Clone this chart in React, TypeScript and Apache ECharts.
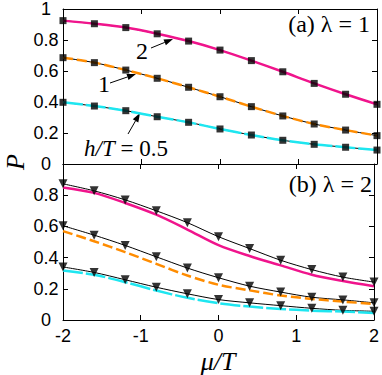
import React, { useEffect, useRef } from "react";
import * as echarts from "echarts";

const muValues = [-2, -1.6, -1.2, -0.8, -0.4, 0, 0.4, 0.8, 1.2, 1.6, 2];

// Panel (a) lambda = 1 : squares and curves for h/T = 2, 1, 0.5
const a_h2 = [0.925, 0.905, 0.88, 0.84, 0.793, 0.735, 0.667, 0.595, 0.52, 0.45, 0.385];
const a_h1 = [0.686, 0.654, 0.606, 0.553, 0.495, 0.434, 0.37, 0.31, 0.258, 0.219, 0.183];
const a_h05 = [0.398, 0.374, 0.344, 0.305, 0.269, 0.226, 0.187, 0.153, 0.127, 0.108, 0.09];

// Panel (b) lambda = 2 : triangles (black) and colored curves
const b_tri_h2 = [0.873, 0.828, 0.77, 0.7, 0.624, 0.534, 0.458, 0.383, 0.323, 0.275, 0.243];
const b_tri_h1 = [0.604, 0.544, 0.478, 0.405, 0.333, 0.271, 0.217, 0.179, 0.146, 0.129, 0.11];
const b_tri_h05 = [0.34, 0.305, 0.258, 0.21, 0.168, 0.131, 0.11, 0.092, 0.075, 0.062, 0.056];
const b_h2 = [0.85, 0.815, 0.75, 0.675, 0.58, 0.48, 0.41, 0.35, 0.29, 0.25, 0.217];
const b_h1 = [0.57, 0.505, 0.435, 0.36, 0.285, 0.226, 0.19, 0.157, 0.135, 0.118, 0.103];
const b_h05 = [0.318, 0.29, 0.243, 0.189, 0.142, 0.108, 0.086, 0.071, 0.06, 0.054, 0.045];

const xTicks = [-2, -1, 0, 1, 2];
const yTicks = [0, 0.2, 0.4, 0.6, 0.8, 1];

const MAGENTA = "#f0148c";
const ORANGE = "#ff8c00";
const CYAN = "#1ee6f0";

const pairs = (ys: number[]) => muValues.map((x, i) => [x, ys[i]]);

function arrow(x1: number, y1: number, x2: number, y2: number) {
  const dx = x2 - x1;
  const dy = y2 - y1;
  const L = Math.sqrt(dx * dx + dy * dy);
  const ux = dx / L;
  const uy = dy / L;
  const hl = 9;
  const hw = 3.2;
  const bx = x2 - ux * hl;
  const by = y2 - uy * hl;
  return {
    type: "group",
    children: [
      {
        type: "line",
        shape: { x1, y1, x2: bx, y2: by },
        style: { stroke: "#000", lineWidth: 1 },
      },
      {
        type: "polygon",
        shape: {
          points: [
            [x2, y2],
            [bx - uy * hw, by + ux * hw],
            [bx + uy * hw, by - ux * hw],
          ],
        },
        style: { fill: "#000" },
      },
    ],
  };
}

export default function App() {
  const ref = useRef<HTMLDivElement>(null);
  useEffect(() => {
    document.body.style.margin = "0";
    if (!ref.current) return;
    const chart = echarts.init(ref.current, undefined, { renderer: "svg" });
    const labelFont = {
      fontFamily: "Liberation Sans, Arial, sans-serif",
      fontSize: 18,
      color: "#000",
    };
    const xBase = (gridIndex: number, position: string, showLabel: boolean) => ({
      type: "value",
      gridIndex,
      position,
      min: -2,
      max: 2,
      interval: 1,
      axisLine: { show: true, onZero: false, lineStyle: { color: "#000", width: 1 } },
      axisTick: { show: true, inside: true, length: 5, lineStyle: { color: "#000" } },
      splitLine: { show: false },
      axisLabel: {
        show: showLabel,
        margin: 7,
        ...labelFont,
        formatter: (v: number) => (xTicks.includes(v) ? String(v) : ""),
      },
    });
    const yBase = (gridIndex: number, position: string, showLabel: boolean, hideTop: boolean) => ({
      type: "value",
      gridIndex,
      position,
      min: 0,
      max: 1,
      interval: 0.2,
      axisLine: { show: true, onZero: false, lineStyle: { color: "#000", width: 1 } },
      axisTick: { show: true, inside: true, length: 5, lineStyle: { color: "#000" } },
      splitLine: { show: false },
      axisLabel: {
        show: showLabel,
        margin: 17,
        align: "center",
        ...labelFont,
        formatter: (v: number) => {
          const t = yTicks.find((y) => Math.abs(y - v) < 1e-6);
          if (t === undefined) return "";
          if (hideTop && t === 1) return "";
          if (t === 0) return "0";
          if (t === 1) return "1";
          return t.toFixed(1);
        },
      },
    });

    const blackLine = (xi: number, yi: number, ys: number[]) => ({
      type: "line",
      xAxisIndex: xi,
      yAxisIndex: yi,
      data: pairs(ys),
      symbol: "none",
      smooth: 0.3,
      lineStyle: { color: "#000", width: 1 },
      z: 2,
    });
    const colorLine = (xi: number, yi: number, ys: number[], color: string, dash: any) => ({
      type: "line",
      xAxisIndex: xi,
      yAxisIndex: yi,
      data: pairs(ys),
      symbol: "none",
      smooth: 0.3,
      lineStyle: { color, width: 2.5, type: dash },
      z: 3,
    });
    const markers = (xi: number, yi: number, ys: number[], symbol: string, size: number, rot: number) => ({
      type: "scatter",
      xAxisIndex: xi,
      yAxisIndex: yi,
      data: pairs(ys),
      symbol,
      symbolSize: size,
      symbolRotate: rot,
      itemStyle: { color: "#000" },
      z: 4,
    });

    const serif = "Liberation Serif, Times New Roman, serif";

    chart.setOption({
      animation: false,
      grid: [
        { left: 63, right: 5, top: 8, height: 156, show: false },
        { left: 63, right: 5, top: 164, height: 156, show: false },
      ],
      xAxis: [
        xBase(0, "bottom", false),
        xBase(0, "top", false),
        xBase(1, "bottom", true),
        xBase(1, "top", false),
      ],
      yAxis: [
        yBase(0, "left", true, false),
        yBase(0, "right", false, false),
        yBase(1, "left", true, true),
        yBase(1, "right", false, true),
      ],
      series: [
        blackLine(0, 0, a_h2),
        blackLine(0, 0, a_h1),
        blackLine(0, 0, a_h05),
        colorLine(0, 0, a_h2, MAGENTA, "solid"),
        colorLine(0, 0, a_h1, ORANGE, [10, 4]),
        colorLine(0, 0, a_h05, CYAN, [20, 3]),
        markers(0, 0, a_h2, "rect", 7, 0),
        markers(0, 0, a_h1, "rect", 7, 0),
        markers(0, 0, a_h05, "rect", 7, 0),
        blackLine(2, 2, b_tri_h2),
        blackLine(2, 2, b_tri_h1),
        blackLine(2, 2, b_tri_h05),
        colorLine(2, 2, b_h2, MAGENTA, "solid"),
        colorLine(2, 2, b_h1, ORANGE, [10, 4]),
        colorLine(2, 2, b_h05, CYAN, [20, 3]),
        markers(2, 2, b_tri_h2, "triangle", 9, 180),
        markers(2, 2, b_tri_h1, "triangle", 9, 180),
        markers(2, 2, b_tri_h05, "triangle", 9, 180),
      ],
      graphic: [
        {
          type: "text",
          right: 12,
          top: 12,
          style: { text: "(a) λ = 1", font: `24px ${serif}`, fill: "#000" },
        },
        {
          type: "text",
          right: 10,
          top: 172,
          style: { text: "(b) λ = 2", font: `24px ${serif}`, fill: "#000" },
        },
        {
          type: "text",
          x: 142,
          y: 51,
          style: { text: "2", font: `24px ${serif}`, fill: "#000", align: "center", verticalAlign: "middle" },
        },
        {
          type: "text",
          x: 104,
          y: 84,
          style: { text: "1", font: `24px ${serif}`, fill: "#000", align: "center", verticalAlign: "middle" },
        },
        {
          type: "text",
          x: 126,
          y: 148,
          style: {
            text: "{i|h/T} = 0.5",
            font: `23px ${serif}`,
            fill: "#000",
            align: "center",
            verticalAlign: "middle",
            rich: { i: { font: `italic 23px ${serif}`, fill: "#000" } },
          },
        },
        arrow(151, 48, 173, 39),
        arrow(110, 83, 136, 74),
        arrow(128, 134, 140, 113),
        {
          type: "text",
          x: 15,
          y: 162,
          rotation: Math.PI / 2,
          style: { text: "P", font: `italic 26px ${serif}`, fill: "#000", align: "center", verticalAlign: "middle" },
        },
        {
          type: "text",
          x: 218,
          y: 361,
          style: { text: "μ/T", font: `italic 26px ${serif}`, fill: "#000", align: "center", verticalAlign: "middle" },
        },
      ],
    });
    return () => chart.dispose();
  }, []);
  return <div ref={ref} style={{ width: 382, height: 375 }} />;
}
